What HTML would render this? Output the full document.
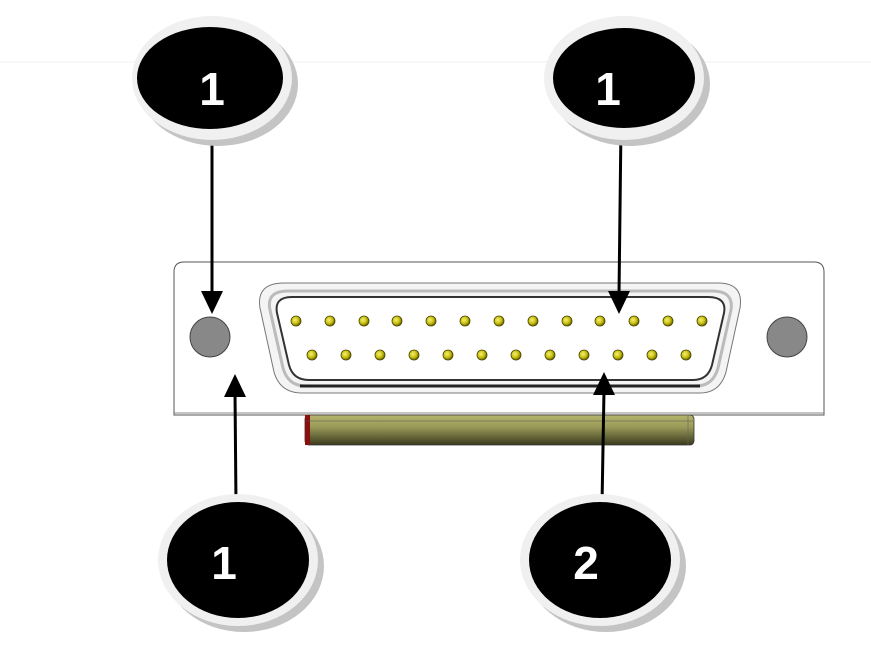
<!DOCTYPE html>
<html><head><meta charset="utf-8"><style>
html,body{margin:0;padding:0;background:#fff;}
svg{display:block;}
</style></head><body>
<svg width="871" height="657" viewBox="0 0 871 657" xmlns="http://www.w3.org/2000/svg">
<defs>
<linearGradient id="bar" x1="0" y1="0" x2="0" y2="1">
<stop offset="0" stop-color="#b4b46c"/><stop offset="0.4" stop-color="#9a9a58"/><stop offset="1" stop-color="#3a3a1e"/>
</linearGradient>
<radialGradient id="pin" cx="0.4" cy="0.4" r="0.6">
<stop offset="0" stop-color="#f4f070"/><stop offset="0.6" stop-color="#c8c010"/><stop offset="1" stop-color="#6a6400"/>
</radialGradient>
</defs>
<line x1="0" y1="62" x2="871" y2="62" stroke="#f2f2f4" stroke-width="1"/>

<!-- plate -->
<path d="M174,415 L174,272 Q174,262 184,262 L814,262 Q824,262 824,272 L824,415 Z" fill="#fff" stroke="#555" stroke-width="1"/>
<line x1="174" y1="413" x2="824" y2="413" stroke="#888"/>
<!-- bar -->
<rect x="305" y="415" width="389" height="30" rx="4" fill="url(#bar)" stroke="#333" stroke-width="0.8"/>
<rect x="305" y="415" width="5" height="30" fill="#8a1010"/>
<line x1="306" y1="421" x2="693" y2="421" stroke="#555" stroke-width="0.6"/>
<line x1="688" y1="415" x2="688" y2="445" stroke="#666" stroke-width="0.6"/>

<!-- shell -->
<path d="M284,283 L718,283 Q744,283 740,308 L726,372 Q720,393 700,393 L302,393 Q280,393 274,372 L260,308 Q256,283 284,283 Z" fill="#f4f4f4" stroke="#777" stroke-width="1"/>
<path d="M288,291 L712,291 Q734,291 731,310 L718,368 Q713,386 696,386 L306,386 Q288,386 283,368 L270,310 Q266,291 288,291 Z" fill="none" stroke="#bbb" stroke-width="3"/>
<line x1="300" y1="386" x2="700" y2="386" stroke="#222" stroke-width="3"/>
<path d="M292,297 L708,297 Q727,297 724,313 L712,365 Q708,380 693,380 L309,380 Q293,380 289,365 L277,313 Q274,297 292,297 Z" fill="#fff" stroke="#333" stroke-width="2"/>

<!-- holes -->
<circle cx="210" cy="337" r="20" fill="#888" stroke="#444"/>
<circle cx="787" cy="337" r="20" fill="#888" stroke="#444"/>

<!-- pins -->
<g fill="url(#pin)" stroke="#4a4600" stroke-width="0.8">
<circle cx="296" cy="321" r="5"/><circle cx="330" cy="321" r="5"/><circle cx="364" cy="321" r="5"/><circle cx="397" cy="321" r="5"/><circle cx="431" cy="321" r="5"/><circle cx="465" cy="321" r="5"/><circle cx="499" cy="321" r="5"/><circle cx="533" cy="321" r="5"/><circle cx="567" cy="321" r="5"/><circle cx="600" cy="321" r="5"/><circle cx="634" cy="321" r="5"/><circle cx="668" cy="321" r="5"/><circle cx="702" cy="321" r="5"/>
<circle cx="312" cy="355" r="5"/><circle cx="346" cy="355" r="5"/><circle cx="380" cy="355" r="5"/><circle cx="414" cy="355" r="5"/><circle cx="448" cy="355" r="5"/><circle cx="482" cy="355" r="5"/><circle cx="516" cy="355" r="5"/><circle cx="550" cy="355" r="5"/><circle cx="584" cy="355" r="5"/><circle cx="618" cy="355" r="5"/><circle cx="652" cy="355" r="5"/><circle cx="686" cy="355" r="5"/>
</g>

<!-- arrows -->
<g stroke="#000" stroke-width="3" fill="none">
<line x1="212" y1="125" x2="212" y2="295"/>
<line x1="621" y1="125" x2="619" y2="295"/>
<line x1="236" y1="505" x2="235" y2="392"/>
<line x1="602" y1="505" x2="604" y2="390"/>
</g>
<g fill="#000">
<polygon points="201,291 223,291 212,314"/>
<polygon points="608,291 630,291 619,314"/>
<polygon points="224,397 246,397 235,374"/>
<polygon points="593,395 615,395 604,372"/>
</g>

<!-- balloons -->
<g font-family="Liberation Sans, sans-serif" font-weight="bold" font-size="46" fill="#fff" text-anchor="middle">
<ellipse cx="218" cy="84" rx="80" ry="62" fill="#c4c4c4"/>
<ellipse cx="212" cy="78" rx="80" ry="62" fill="#f0f0f0"/>
<ellipse cx="210" cy="78" rx="73" ry="51" fill="#000"/>
<text x="212" y="105">1</text>

<ellipse cx="630" cy="84" rx="80" ry="62" fill="#c4c4c4"/>
<ellipse cx="624" cy="78" rx="80" ry="62" fill="#f0f0f0"/>
<ellipse cx="624" cy="78" rx="71" ry="50" fill="#000"/>
<text x="608" y="105">1</text>

<ellipse cx="244" cy="566" rx="80" ry="66" fill="#c4c4c4"/>
<ellipse cx="238" cy="560" rx="80" ry="66" fill="#f0f0f0"/>
<ellipse cx="238" cy="560" rx="71" ry="58" fill="#000"/>
<text x="224" y="579">1</text>

<ellipse cx="606" cy="566" rx="80" ry="66" fill="#c4c4c4"/>
<ellipse cx="600" cy="560" rx="80" ry="66" fill="#f0f0f0"/>
<ellipse cx="600" cy="560" rx="71" ry="58" fill="#000"/>
<text x="586" y="579">2</text>
</g>
</svg>
</body></html>
